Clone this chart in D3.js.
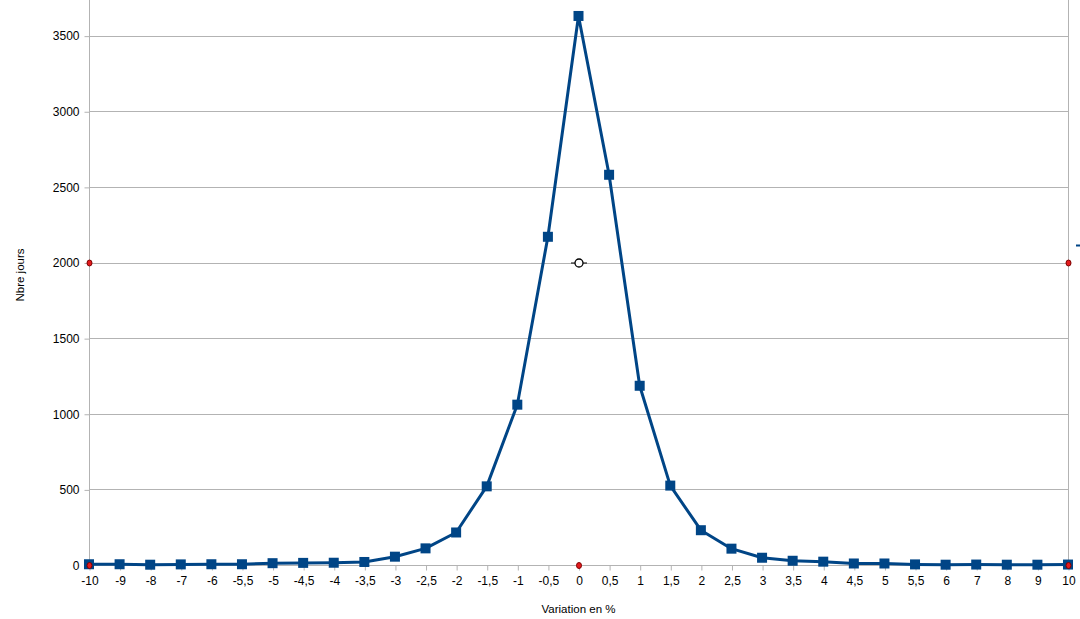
<!DOCTYPE html>
<html lang="fr">
<head>
	<meta charset="UTF-8">
	<title>Variation en %</title>
	<style>
		body { margin: 0; background: #fff; }
		svg { display: block; font-family: "Liberation Sans", Arial, sans-serif; }
	</style>
</head>
<body>
	<svg width="1080" height="619"></svg>

	<script src="https://d3js.org/d3.v7.min.js"></script>
	<script>
		// catégories de l'axe x (variation en %)
		var categories = ["-10","-9","-8","-7","-6","-5,5","-5","-4,5","-4","-3,5","-3","-2,5","-2","-1,5","-1","-0,5",
		                  "0","0,5","1","1,5","2","2,5","3","3,5","4","4,5","5","5,5","6","7","8","9","10"];
		// nombre de jours
		var jours = [5,5,2,4,5,5,12,14,15,20,55,110,215,520,1060,2170,
		             3630,2580,1185,525,230,108,48,28,22,10,10,4,2,3,2,2,3];
		var yTicks = [0,500,1000,1500,2000,2500,3000,3500];

		// points isolés (rouges) et le point central
		var redPoints = [["-10",0],["-10",2000],["0",0],["10",2000],["10",0]];
		var centerPoint = [["0",2000]];

		var svg = d3.select("svg");
		var pLeft = 89, pRight = 1068, pBottom = 565, pTop = -40;

		var x = d3.scalePoint().domain(categories).range([pLeft, pRight]);
		var y = d3.scaleLinear().domain([0, 4000]).range([pBottom, pTop]);

		// grille horizontale
		svg.append("g")
			.selectAll("line")
			.data(yTicks.slice(1))
			.enter().append("line")
			.attr("x1", pLeft).attr("x2", pRight)
			.attr("y1", function(d){ return Math.round(y(d)) + 0.5; })
			.attr("y2", function(d){ return Math.round(y(d)) + 0.5; })
			.attr("stroke", "#b3b3b3");

		// bord droit
		svg.append("line")
			.attr("x1", pRight + 0.5).attr("x2", pRight + 0.5)
			.attr("y1", 0).attr("y2", pBottom)
			.attr("stroke", "#b3b3b3");

		// axe y
		var yAxis = svg.append("g")
			.attr("transform", "translate(" + (pLeft + 0.5) + ",0.5)")
			.call(d3.axisLeft(y).tickValues(yTicks).tickSize(5).tickPadding(5).tickFormat(d3.format("d")));
		yAxis.select(".domain").attr("d", "M0," + pTop + "V" + (pBottom - 0.5));
		yAxis.selectAll("line").attr("stroke", "#b3b3b3");
		yAxis.select(".domain").attr("stroke", "#b3b3b3");
		yAxis.selectAll("text").attr("font-size", 12).attr("fill", "#000").attr("font-family", "Liberation Sans, Arial, sans-serif");

		// axe x
		var xAxis = svg.append("g")
			.attr("transform", "translate(0.5," + (pBottom + 0.5) + ")")
			.call(d3.axisBottom(x).tickSize(5).tickPadding(6));
		xAxis.select(".domain").attr("d", "M" + (pLeft - 0.5) + ",0H" + (pRight - 0.5));
		xAxis.selectAll("line").attr("stroke", "#b3b3b3");
		xAxis.select(".domain").attr("stroke", "#b3b3b3");
		xAxis.selectAll("text").attr("font-size", 12).attr("fill", "#000").attr("font-family", "Liberation Sans, Arial, sans-serif");

		// titres des axes
		svg.append("text")
			.attr("x", (pLeft + pRight) / 2).attr("y", 613)
			.attr("text-anchor", "middle")
			.attr("font-size", 11.5)
			.text("Variation en %");
		svg.append("text")
			.attr("transform", "translate(24,275) rotate(-90)")
			.attr("text-anchor", "middle")
			.attr("font-size", 11.5)
			.text("Nbre jours");

		// courbe
		var line = d3.line()
			.x(function(d, i){ return x(categories[i]); })
			.y(function(d){ return y(d); });

		svg.append("path")
			.datum(jours)
			.attr("d", line)
			.attr("fill", "none")
			.attr("stroke", "#004586")
			.attr("stroke-width", 3)
			.attr("stroke-linejoin", "round");

		svg.append("g")
			.selectAll("rect")
			.data(jours)
			.enter().append("rect")
			.attr("x", function(d, i){ return x(categories[i]) - 5; })
			.attr("y", function(d){ return y(d) - 5; })
			.attr("width", 10).attr("height", 10)
			.attr("fill", "#004586");

		// points rouges
		svg.append("g")
			.selectAll("ellipse")
			.data(redPoints)
			.enter().append("ellipse")
			.attr("cx", function(d){ return x(d[0]) + 0.5; })
			.attr("cy", function(d){ return y(d[1]) + 0.5; })
			.attr("rx", 2.5).attr("ry", 3)
			.attr("fill", "#e31a1c")
			.attr("stroke", "#7f0000")
			.attr("stroke-width", 1);

		// point central
		var c = svg.append("g").selectAll("g").data(centerPoint).enter().append("g")
			.attr("transform", function(d){ return "translate(" + (x(d[0]) + 0.5) + "," + (y(d[1]) + 0.5) + ")"; });
		c.append("line").attr("x1", -8).attr("x2", 8).attr("stroke", "#000").attr("stroke-width", 1);
		c.append("circle").attr("r", 4).attr("fill", "#fff").attr("stroke", "#000").attr("stroke-width", 1.3);

		// fragment de légende
		svg.append("line")
			.attr("x1", 1076).attr("x2", 1080)
			.attr("y1", 245.5).attr("y2", 245.5)
			.attr("stroke", "#004586").attr("stroke-width", 2);
	</script>
</body>
</html>
